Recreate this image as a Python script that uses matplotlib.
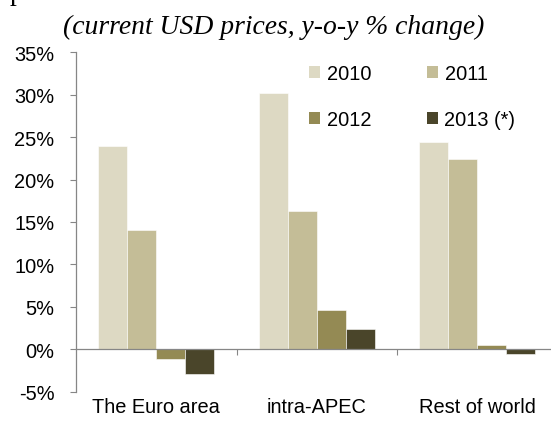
import numpy as np
import matplotlib.pyplot as plt
from matplotlib.patches import Patch

# data
regions = ["The Euro area", "intra-APEC", "Rest of world"]
years = ["2010", "2011", "2012", "2013 (*)"]
v2010 = [24.0, 30.2, 24.4]
v2011 = [14.1, 16.3, 22.4]
v2012 = [-1.1, 4.6, 0.5]
v2013 = [-2.9, 2.4, -0.6]
yticks = [-5, 0, 5, 10, 15, 20, 25, 30, 35]

colors = ["#DDD9C3", "#C4BD97", "#948A54", "#4A452A"]
grey = "#868686"

fig = plt.figure(figsize=(5.51, 4.27), dpi=100)
ax = fig.add_axes([76/551, 1-392.6/427, (557.5-76)/551, (392.6-53.3)/427])

x = np.arange(len(regions))
w = 0.181
series = [v2010, v2011, v2012, v2013]
for i, vals in enumerate(series):
    ax.bar(x + (i-1.5)*w, np.array(vals)/100, w, color=colors[i],
           edgecolor="white", linewidth=0.4, label=years[i])

ax.set_xlim(-0.5, 2.5)
ax.set_ylim(-0.05, 0.35)
ax.set_yticks(np.array(yticks)/100)
ax.set_yticklabels([f"{t}%" for t in yticks], fontsize=14.4, family="Liberation Sans")
ax.tick_params(axis="y", direction="out", length=4.5, width=0.8, color=grey, pad=11)

for s in ["top", "right"]:
    ax.spines[s].set_visible(False)
ax.spines["left"].set_color(grey)
ax.spines["left"].set_linewidth(0.9)
ax.spines["bottom"].set_position(("data", 0))
ax.spines["bottom"].set_color(grey)
ax.spines["bottom"].set_linewidth(0.9)
ax.set_xticks([0.5, 1.5])
ax.set_xticklabels(["", ""])
ax.tick_params(axis="x", direction="out", length=4.5, width=0.8, color=grey)

for i, name in enumerate(regions):
    ax.annotate(name, xy=(i, 0), xycoords=("data", "axes fraction"),
                xytext=(0, -4), textcoords="offset points", ha="center", va="top",
                fontsize=14.4, family="Liberation Sans")

# legend is filled row by row in the reference
order = [0, 2, 1, 3]
handles = [Patch(facecolor=colors[k], edgecolor="none") for k in order]
ax.legend(handles, [years[k] for k in order], ncol=2, loc="upper left", frameon=False,
          bbox_to_anchor=(309/551, 1-65/427), bbox_transform=fig.transFigure,
          prop={"family": "Liberation Sans", "size": 14.4},
          handlelength=0.55, handleheight=0.55, handletextpad=0.35,
          columnspacing=2.75, labelspacing=1.35, borderpad=0, borderaxespad=0)

fig.text(273.5/551, 1-27/427, "(current USD prices, y-o-y % change)",
         ha="center", va="center", fontsize=19.9, style="italic",
         family="Liberation Serif")
fig.text(10/551, 1.0, "p", ha="left", va="baseline", fontsize=19.9,
         family="Liberation Serif")

fig.savefig("out.png", dpi=100)
